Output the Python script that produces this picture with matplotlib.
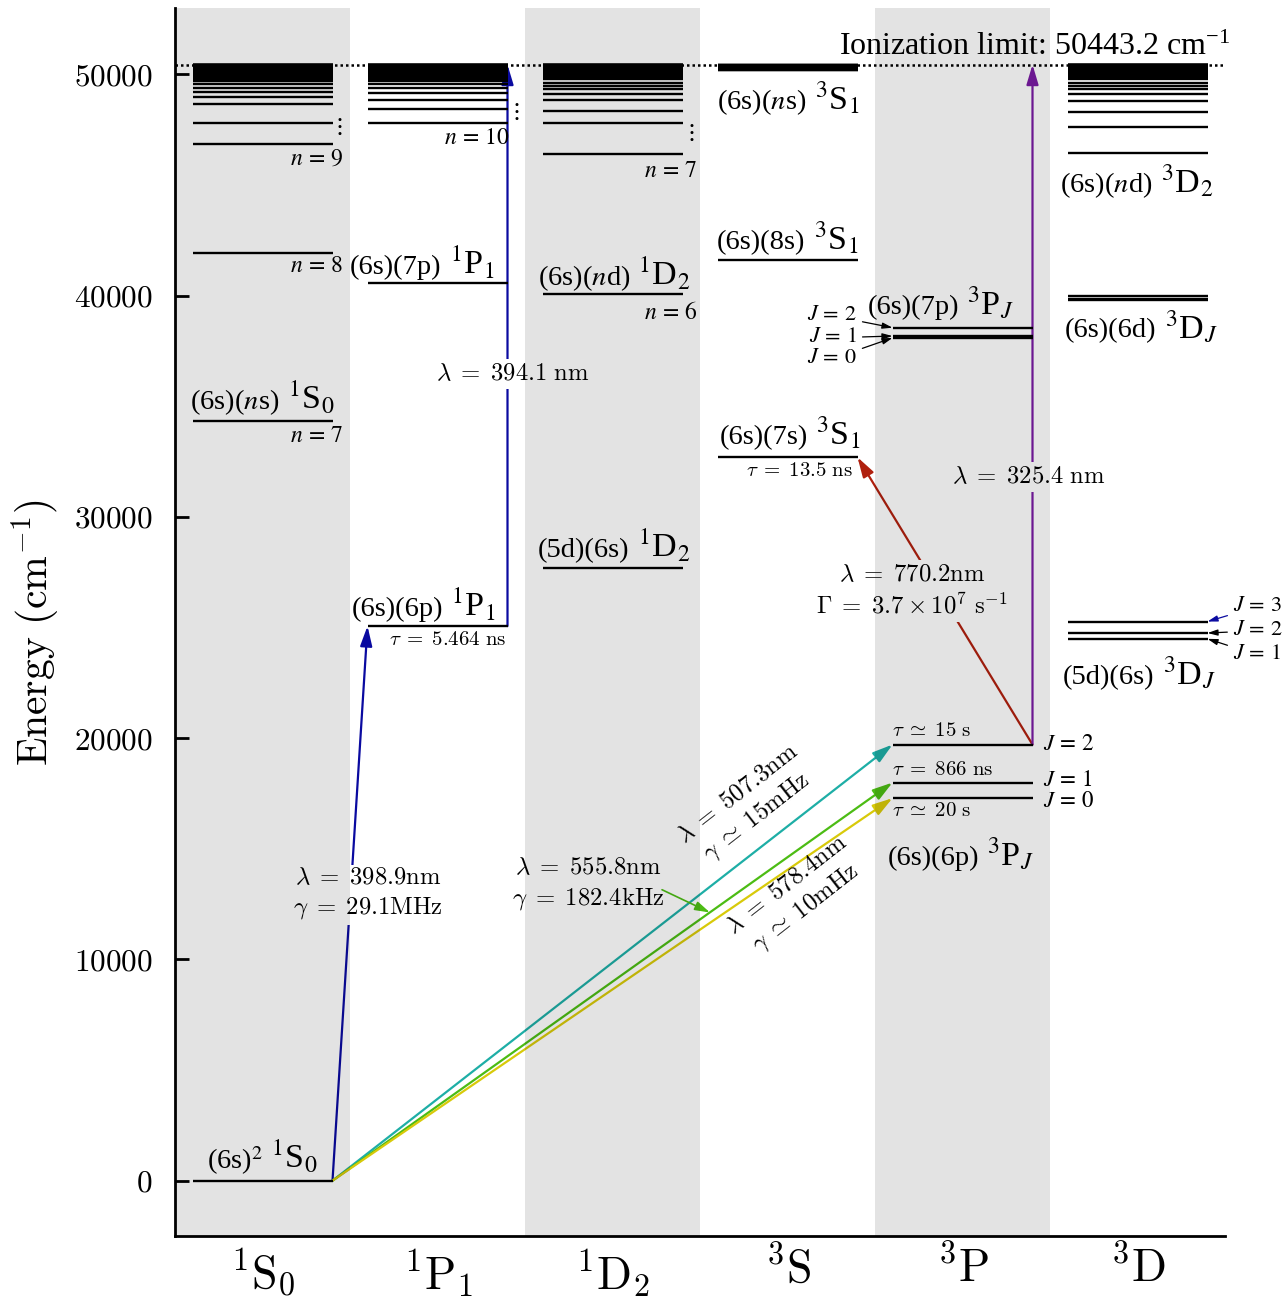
import matplotlib
matplotlib.use('Agg')
import matplotlib.pyplot as plt
from matplotlib.offsetbox import TextArea, HPacker, AnnotationBbox

plt.rcParams['font.family'] = 'serif'
plt.rcParams['font.serif'] = ['Liberation Serif', 'DejaVu Serif']
plt.rcParams['mathtext.fontset'] = 'stix'

# ---------------- data (energies in cm^-1) ----------------
columns = [r'$^1\mathrm{S}_0$', r'$^1\mathrm{P}_1$', r'$^1\mathrm{D}_2$',
           r'$^3\mathrm{S}$', r'$^3\mathrm{P}$', r'$^3\mathrm{D}$']
ionization_limit = 50443.2

s0_levels = [0.0, 34350.7, 41939.9]
s0_series = [46860, 47780, 48680, 49000, 49210, 49400, 49560, 49680]
p1_levels = [25068.2, 40564.0]
p1_series = [47795, 48430, 48860, 49180, 49400, 49560, 49680]
d1_levels = [27677.7, 40061.5]
d1_series = [46380, 47795, 48365, 48850, 49130, 49330, 49480, 49600]
s3_levels = [32694.7, 41615.0]
s3_series = [50195, 50215, 50235, 50255, 50275, 50295, 50315, 50335, 50355,
             50375, 50395, 50410, 50425, 50440]
p3_6p = [17288.4, 17992.0, 19710.4]
p3_7p = [38090.7, 38174.2, 38551.9]
d3_5d = [24489.1, 24751.9, 25270.9]
d3_6d = [39808.7, 39838.0, 39966.1]
d3_series = [46440, 47600, 48320, 48800, 49130, 49330, 49480, 49600]
rydberg_tail = [49780, 49860, 49930, 49990, 50040, 50085, 50125, 50160, 50190,
                50218, 50243, 50265, 50285, 50303, 50319, 50334, 50347, 50359,
                50370, 50380, 50389, 50397, 50405, 50412, 50418, 50424, 50429,
                50434, 50438, 50442]

yticks = [0, 10000, 20000, 30000, 40000, 50000]

c_blue = '#0a0aa0'
c_teal = '#1eaea6'
c_green = '#4cbc14'
c_yellow = '#d8ca0a'
c_red = '#b0200e'
c_purple = '#7a1ca4'

HW = 0.4  # half width of level bars
LW = 1.7

fig = plt.figure(figsize=(12.84, 13), dpi=100)
ax = fig.add_axes([175/1284, 64/1300, 1050/1284, 1228/1300])
ax.set_xlim(-0.5, 5.5)
ax.set_ylim(-2500, 53000)

# shaded columns (drawn on top with transparency, so white label boxes read gray)
for c in (0, 2, 4):
    ax.axvspan(c - 0.5, c + 0.5, color='k', alpha=0.11, lw=0, zorder=6)


def levels(col, vals, lw=LW):
    ax.hlines(vals, col - HW, col + HW, colors='k', lw=lw, zorder=3)


levels(0, s0_levels)
levels(0, s0_series + rydberg_tail)
levels(1, p1_levels)
levels(1, p1_series + rydberg_tail)
levels(2, d1_levels)
levels(2, d1_series + rydberg_tail)
levels(3, s3_levels)
levels(3, s3_series)
levels(4, p3_6p)
levels(4, p3_7p)
levels(5, d3_5d)
levels(5, d3_6d)
levels(5, d3_series + rydberg_tail)

ax.axhline(ionization_limit, color='k', lw=1.8, ls=(0, (1, 1.2)), zorder=3)
ax.text(5.53, 51243, r'Ionization limit: 50443.2 cm$^{\mathregular{-1}}$',
        ha='right', va='center', fontsize=23, zorder=4)

# ---------------- transitions ----------------
def arrow(x0, y0, x1, y1, color, lw=1.6):
    ax.annotate('', xy=(x1, y1), xytext=(x0, y0), zorder=2,
                arrowprops=dict(arrowstyle='-|>,head_length=0.6,head_width=0.18',
                                color=color, lw=lw, shrinkA=0, shrinkB=0,
                                mutation_scale=20))


arrow(0 + HW, s0_levels[0], 1 - HW, p1_levels[0], c_blue)
arrow(1 + HW, p1_levels[0], 1 + HW, ionization_limit, c_blue)
arrow(0 + HW, s0_levels[0], 4 - HW, p3_6p[2], c_teal)
arrow(0 + HW, s0_levels[0], 4 - HW, p3_6p[1], c_green)
arrow(0 + HW, s0_levels[0], 4 - HW, p3_6p[0], c_yellow)
arrow(4 + HW, p3_6p[2], 3 + HW, s3_levels[0], c_red)
arrow(4 + HW, p3_6p[2], 4 + HW, ionization_limit, c_purple)

box = dict(facecolor='white', edgecolor='none', pad=3)
TF = 17.8
def cmtext(x, y, s, fs=TF, **kw):
    kw.setdefault('ha', 'center')
    kw.setdefault('va', 'center')
    return ax.text(x, y, s, fontsize=fs, math_fontfamily='cm', zorder=4, **kw)

EQ = r'\;=\;'
SIM = r'\;\simeq\;'
cmtext(0.603, 12969, f'$\\lambda{EQ}398.9\\mathrm{{nm}}$\n$\\gamma{EQ}29.1\\mathrm{{MHz}}$',
       bbox=box, multialignment='center', linespacing=1.3)
cmtext(1.431, 36466, f'$\\lambda{EQ}394.1\\ \\mathrm{{nm}}$', bbox=box)
cmtext(1.86, 13376, f'$\\lambda{EQ}555.8\\mathrm{{nm}}$\n$\\gamma{EQ}182.4\\mathrm{{kHz}}$',
       multialignment='center', linespacing=1.3)
cmtext(2.774, 16900, f'$\\lambda{EQ}507.3\\mathrm{{nm}}$\n$\\gamma{SIM}15\\mathrm{{mHz}}$',
       multialignment='center', rotation=38, rotation_mode='anchor', linespacing=1.3)
cmtext(3.054, 12788, f'$\\lambda{EQ}578.4\\mathrm{{nm}}$\n$\\gamma{SIM}10\\mathrm{{mHz}}$',
       multialignment='center', rotation=38, rotation_mode='anchor', linespacing=1.3)
cmtext(3.711, 26661, f'$\\lambda{EQ}770.2\\mathrm{{nm}}$\n$\\Gamma{EQ}3.7 \\times 10^7\\ \\mathrm{{s}}^{{-1}}$',
       bbox=box, multialignment='center', linespacing=1.3)
cmtext(4.38, 31812, f'$\\lambda{EQ}325.4\\ \\mathrm{{nm}}$', bbox=box)

# green pointer to 555.8 nm line
ax.annotate('', xy=(2.557, 12120), xytext=(2.283, 13150), zorder=4,
            arrowprops=dict(arrowstyle='-|>,head_length=0.5,head_width=0.15',
                            color=c_green, lw=1.2, shrinkA=0, shrinkB=0,
                            mutation_scale=18))

# lifetimes
TS = 15
cmtext(1.06, 24401, f'$\\tau{EQ}5.464\\ \\mathrm{{ns}}$', fs=TS)
cmtext(3.071, 32038, f'$\\tau{EQ}13.5\\ \\mathrm{{ns}}$', fs=TS)
cmtext(3.6, 20289, f'$\\tau{SIM}15\\ \\mathrm{{s}}$', fs=TS, ha='left')
cmtext(3.6, 18527, f'$\\tau{EQ}866\\ \\mathrm{{ns}}$', fs=TS, ha='left')
cmtext(3.6, 16674, f'$\\tau{SIM}20\\ \\mathrm{{s}}$', fs=TS, ha='left')

# ---------------- level labels ----------------
PF, TFZ = 20.5, 24.5
def lab2(x, y, prefix, term):
    pk = HPacker(children=[TextArea(prefix, textprops=dict(fontsize=PF)),
                           TextArea(term, textprops=dict(fontsize=TFZ))],
                 align='baseline', pad=0, sep=6)
    ab = AnnotationBbox(pk, (x, y), frameon=False, box_alignment=(0.5, 0.5),
                        pad=0, annotation_clip=False)
    ab.set_zorder(4)
    ax.add_artist(ab)


def lab(x, y, s, fs=PF, **kw):
    kw.setdefault('ha', 'center')
    kw.setdefault('va', 'center')
    ax.text(x, y, s, fontsize=fs, zorder=4, **kw)


lab2(0.0, 1040, r'(6s)$^2$', r'$^1$S$_0$')
lab2(0.0, 35382, r'(6s)($n$s)', r'$^1$S$_0$')
lab2(0.911, 41482, r'(6s)(7p)', r'$^1$P$_1$')
lab2(0.92, 26028, r'(6s)(6p)', r'$^1$P$_1$')
lab2(2.009, 40985, r'(6s)($n$d)', r'$^1$D$_2$')
lab2(2.009, 28694, r'(5d)(6s)', r'$^1$D$_2$')
lab2(3.003, 48900, r'(6s)($n$s)', r'$^3$S$_1$')
lab2(3.0, 42612, r'(6s)(8s)', r'$^3$S$_1$')
lab2(3.014, 33800, r'(6s)(7s)', r'$^3$S$_1$')
lab2(3.877, 39675, r'(6s)(7p)', r'$^3$P$_J$')
lab2(3.991, 14776, r'(6s)(6p)', r'$^3$P$_J$')
lab2(4.997, 45150, r'(6s)($n$d)', r'$^3$D$_2$')
lab2(5.02, 38600, r'(6s)(6d)', r'$^3$D$_J$')
lab2(5.009, 22955, r'(5d)(6s)', r'$^3$D$_J$')

NF = 17
lab(0.46, 33620, r'$n\,=\,7$', fs=NF, ha='right')
lab(0.46, 41302, r'$n\,=\,8$', fs=NF, ha='right')
lab(0.46, 46182, r'$n\,=\,9$', fs=NF, ha='right')
lab(1.414, 47085, r'$n\,=\,10$', fs=NF, ha='right')
lab(2.483, 45594, r'$n\,=\,7$', fs=NF, ha='right')
lab(2.483, 39223, r'$n\,=\,6$', fs=NF, ha='right')
lab(0.431, 47582, r'$\vdots$', fs=17)
lab(1.443, 48260, r'$\vdots$', fs=17)
lab(2.443, 47311, r'$\vdots$', fs=17)

JF = 16.5
lab(4.46, p3_6p[2], r'$J\,=\,2$', fs=JF, ha='left')
lab(4.46, 18075, r'$J\,=\,1$', fs=JF, ha='left')
lab(4.46, 17130, r'$J\,=\,0$', fs=JF, ha='left')


def jarrow(s, head, tail, color='k', ha='right', fs=16):
    ax.annotate(s, xy=head, xytext=tail, fontsize=fs, ha=ha, va='center',
                zorder=4, annotation_clip=False,
                arrowprops=dict(arrowstyle='-|>,head_length=0.5,head_width=0.15',
                                color=color, lw=0.9, shrinkA=2, shrinkB=0,
                                mutation_scale=12))


jarrow(r'$J\,=\,2$', (3.6, p3_7p[2]), (3.397, 39087))
jarrow(r'$J\,=\,1$', (3.6, p3_7p[1]), (3.397, 38093))
jarrow(r'$J\,=\,0$', (3.6, p3_7p[0]), (3.397, 37144))
jarrow(r'$J\,=\,3$', (5.4, d3_5d[2]), (5.545, 25938), color=c_blue, ha='left')
jarrow(r'$J\,=\,2$', (5.4, d3_5d[1]), (5.545, 24853), ha='left')
jarrow(r'$J\,=\,1$', (5.4, d3_5d[0]), (5.545, 23769), ha='left')

# ---------------- axes styling ----------------
for s in ('top', 'right'):
    ax.spines[s].set_visible(False)
for s in ('left', 'bottom'):
    ax.spines[s].set_linewidth(2)
ax.set_yticks(yticks, labels=[f'${t}$' for t in yticks], fontsize=22.5,
              math_fontfamily='cm')
ax.tick_params(axis='y', direction='in', length=10, width=2, pad=16)
ax.set_xticks(range(6), labels=columns, fontsize=33, math_fontfamily='cm')
ax.tick_params(axis='x', length=0, pad=8)
fig.text(35/1284, 1 - 633/1300, r'$\mathrm{Energy\ (cm^{-1})}$', rotation=90,
         ha='center', va='center', fontsize=30, math_fontfamily='cm')

fig.savefig('out.png', dpi=100)
